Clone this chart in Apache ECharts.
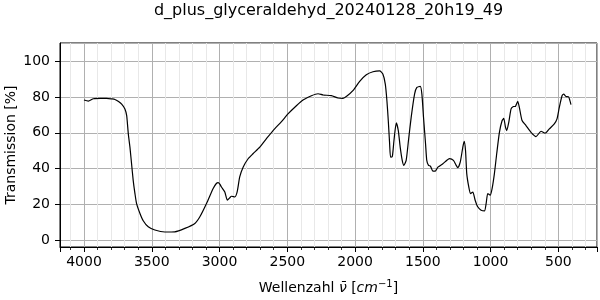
<!DOCTYPE html>
<html>
<head>
<meta charset="utf-8">
<script src="https://cdn.jsdelivr.net/npm/echarts@6/dist/echarts.min.js"></script>
<style>html,body{margin:0;padding:0;background:#fff}#c{width:600px;height:300px}</style>
</head>
<body>
<div id="c"></div>
<script>
const titleText = 'd_plus_glyceraldehyd_20240128_20h19_49';
const wavenumbers = [4000,3968,3931,3880,3833,3796,3772,3745,3722,3698,3685,3673,3661,3649,3637,3624,3612,3587,3563,3526,3477,3403,3330,3256,3182,3145,3096,3047,3025,3010,2998,2986,2961,2942,2925,2912,2887,2870,2851,2826,2789,2753,2703,2654,2605,2543,2495,2433,2384,2322,2273,2236,2175,2126,2089,2060,2016,1966,1917,1868,1819,1795,1777,1765,1755,1745,1738,1725,1713,1696,1681,1667,1652,1640,1623,1606,1586,1561,1544,1519,1507,1495,1480,1471,1458,1444,1426,1409,1389,1352,1303,1274,1254,1242,1224,1205,1195,1185,1176,1161,1148,1131,1114,1095,1070,1045,1033,1021,1003,989,972,955,935,915,903,891,881,866,849,832,817,800,788,768,739,702,665,628,597,567,530,510,493,473,461,444,425,407];
const transmission = [78.4,77.8,79.1,79.3,79.3,79.0,78.7,77.5,76.1,73.4,69.6,59.4,52.0,42.7,33.4,26.0,20.4,14.9,10.8,7.4,5.6,4.5,4.6,6.5,9.3,13.0,20.4,28.8,31.5,32.1,31.3,29.7,26.9,22.3,23.6,24.5,24.1,26.9,35.3,40.8,45.5,48.3,52.0,56.7,61.3,66.3,70.6,75.2,78.4,80.8,81.9,81.2,80.8,79.5,79.3,80.6,83.6,88.8,92.5,94.2,94.7,92.9,87.3,78.0,66.9,53.9,46.4,46.8,55.7,65.6,61.3,52.0,44.6,41.8,44.6,55.7,68.7,81.7,85.4,86.0,81.7,68.7,53.9,44.6,41.8,41.4,38.6,38.6,40.8,42.7,45.6,44.6,41.8,40.5,43.6,52.0,55.2,50.1,37.2,29.7,26.0,26.9,22.3,18.6,16.7,16.3,20.4,26.0,25.1,28.8,37.2,48.3,60.3,66.9,68.1,63.5,61.3,65.9,73.4,74.7,74.8,77.6,74.3,66.9,64.1,60.3,57.9,60.9,59.8,62.2,65.0,67.8,74.3,80.8,81.7,80.4,80.2,75.8];

const FONT = 'DejaVu Sans';
const data = wavenumbers.map((w, i) => [w, transmission[i]]);
const chart = echarts.init(document.getElementById('c'), null, {renderer: 'canvas'});
chart.setOption({
  animation: false,
  backgroundColor: '#fff',
  textStyle: {fontFamily: FONT},
  grid: {left: 60, right: 3, top: 43, bottom: 53, containLabel: false, outerBoundsMode: 'none',
         show: true, borderColor: '#000', borderWidth: 1, backgroundColor: 'transparent'},
  graphic: [{
    type: 'text', x: 328.5, y: 11, z: 10,
    style: {text: titleText, textAlign: 'center', textVerticalAlign: 'middle', fontFamily: FONT, fontSize: 16, fill: '#000'}
  }],
  xAxis: {
    type: 'value', inverse: true, min: 215, max: 4177, splitNumber: 8,
    name: 'Wellenzahl {i|ν̄} [{i|cm}{sup|−1}]',
    nameLocation: 'middle', nameGap: 32, nameMoveOverlap: false,
    nameTextStyle: {fontFamily: FONT, fontSize: 14, color: '#000',
      rich: {i: {fontFamily: FONT, fontStyle: 'italic', fontSize: 14, color: '#000'},
             sup: {fontFamily: FONT, fontSize: 10, color: '#000', padding: [0, 0, 9, 0]}}},
    axisLine: {show: true, onZero: false, lineStyle: {color: '#000', width: 1}},
    axisTick: {show: true, length: 5, lineStyle: {color: '#000', width: 1}},
    minorTick: {show: true, splitNumber: 5, length: 3, lineStyle: {color: '#000', width: 0.8}},
    axisLabel: {show: true, showMinLabel: false, showMaxLabel: false, margin: 8, fontFamily: FONT, fontSize: 14, color: '#000',
                formatter: v => String(Math.round(v))},
    splitLine: {show: true, lineStyle: {color: '#b0b0b0', width: 1}},
    minorSplitLine: {show: true, lineStyle: {color: '#e8e8e8', width: 1}}
  },
  yAxis: {
    type: 'value', min: -3.9, max: 110.3, splitNumber: 6,
    name: 'Transmission [%]', nameLocation: 'middle', nameGap: 42, nameRotate: 90, nameMoveOverlap: false,
    nameTextStyle: {fontFamily: FONT, fontSize: 14, color: '#000'},
    axisLine: {show: true, onZero: false, lineStyle: {color: '#000', width: 1}},
    axisTick: {show: true, length: 5, lineStyle: {color: '#000', width: 1}},
    minorTick: {show: false},
    axisLabel: {show: true, showMinLabel: false, showMaxLabel: false, margin: 10, fontFamily: FONT, fontSize: 14, color: '#000',
                formatter: v => String(Math.round(v))},
    splitLine: {show: true, lineStyle: {color: '#b0b0b0', width: 1}},
    minorSplitLine: {show: false}
  },
  series: [{
    type: 'line', data: data, showSymbol: false, smooth: 0.2,
    lineStyle: {color: '#000', width: 1.2}, z: 5
  }]
});
</script>
</body>
</html>
